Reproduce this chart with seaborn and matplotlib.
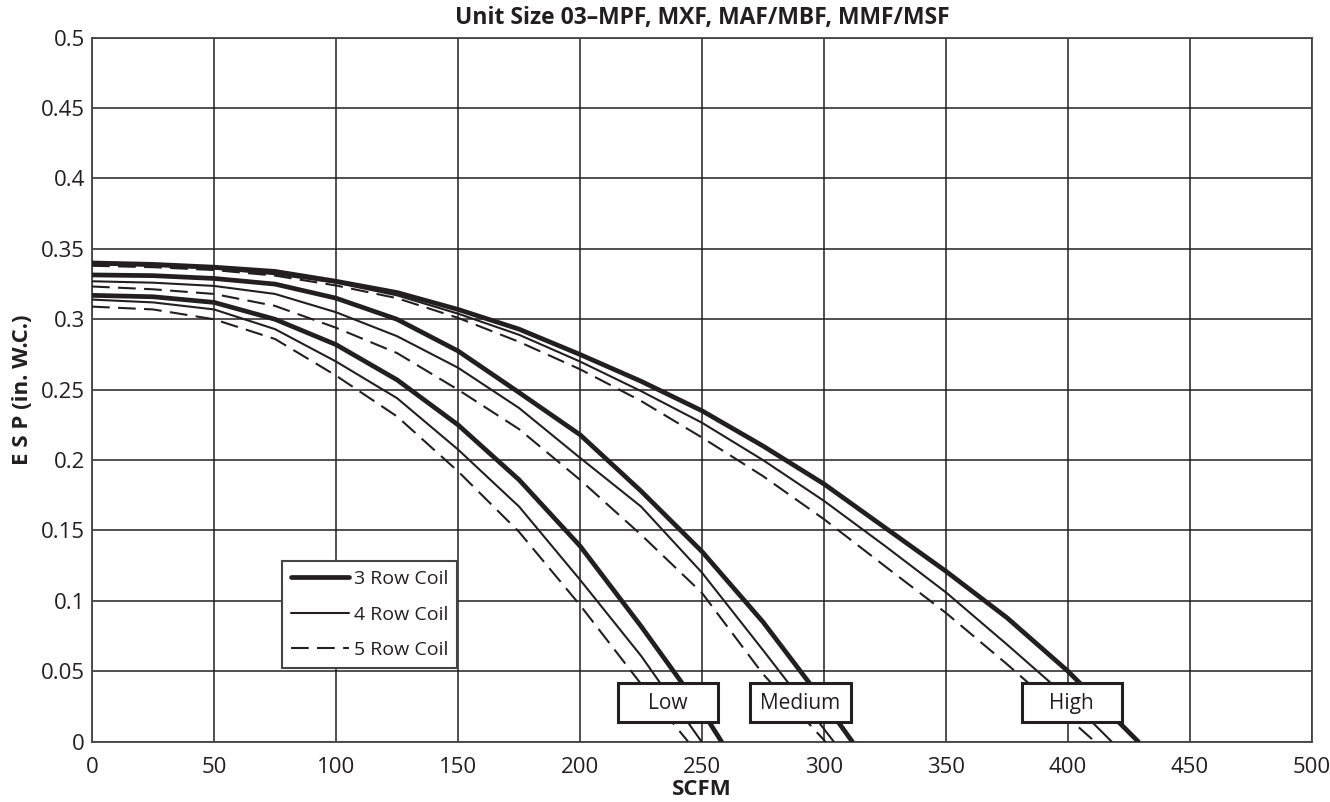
import numpy as np
import pandas as pd
import matplotlib
matplotlib.use("Agg")
import matplotlib.pyplot as plt
from matplotlib.patches import Rectangle
import seaborn as sns

# fan curves (SCFM vs ESP in. W.C.)
low3_x = [0, 25, 50, 75, 100, 125, 150, 175, 200, 225, 250, 258]
low3_y = [0.317, 0.316, 0.312, 0.300, 0.282, 0.257, 0.225, 0.186, 0.139, 0.082, 0.022, 0.0]
low4_x = [0, 25, 50, 75, 100, 125, 150, 175, 200, 225, 249.8]
low4_y = [0.314, 0.312, 0.307, 0.293, 0.270, 0.244, 0.2075, 0.167, 0.115, 0.061, 0.0]
low5_x = [0, 25, 50, 75, 100, 125, 150, 175, 200, 225, 244.3]
low5_y = [0.309, 0.307, 0.300, 0.286, 0.260, 0.231, 0.192, 0.149, 0.097, 0.041, 0.0]

med3_x = [0, 25, 50, 75, 100, 125, 150, 175, 200, 225, 250, 275, 300, 311.6]
med3_y = [0.3315, 0.331, 0.329, 0.325, 0.315, 0.300, 0.2775, 0.248, 0.218, 0.178, 0.135, 0.085, 0.028, 0.0]
med4_x = [0, 25, 50, 75, 100, 125, 150, 175, 200, 225, 250, 275, 304]
med4_y = [0.327, 0.326, 0.3237, 0.318, 0.305, 0.288, 0.2656, 0.237, 0.2016, 0.167, 0.120, 0.065, 0.0]
med5_x = [0, 25, 50, 75, 100, 125, 150, 175, 200, 225, 250, 275, 300.6]
med5_y = [0.3233, 0.3213, 0.318, 0.3095, 0.294, 0.276, 0.250, 0.222, 0.186, 0.147, 0.1056, 0.048, 0.0]

high3_x = [0, 25, 50, 75, 100, 125, 150, 175, 200, 225, 250, 275, 300, 325, 350, 375, 400, 428.8]
high3_y = [0.340, 0.339, 0.337, 0.334, 0.327, 0.319, 0.307, 0.293, 0.275, 0.256, 0.235, 0.210, 0.183, 0.152, 0.121, 0.088, 0.050, 0.0]
high4_x = [0, 25, 50, 75, 100, 125, 150, 175, 200, 225, 250, 275, 300, 325, 350, 375, 400, 417.9]
high4_y = [0.339, 0.338, 0.336, 0.332, 0.326, 0.317, 0.304, 0.289, 0.270, 0.249, 0.2265, 0.200, 0.171, 0.139, 0.106, 0.069, 0.031, 0.0]
high5_x = [0, 25, 50, 75, 100, 125, 150, 175, 200, 225, 250, 275, 300, 325, 350, 375, 400, 411]
high5_y = [0.338, 0.337, 0.335, 0.331, 0.324, 0.315, 0.301, 0.284, 0.2645, 0.242, 0.216, 0.1886, 0.158, 0.1246, 0.0914, 0.055, 0.017, 0.0]

coils = ["3 Row Coil", "4 Row Coil", "5 Row Coil"]
speeds = ["Low", "Medium", "High"]

curves = {
    ("Low", "3 Row Coil"): (low3_x, low3_y),
    ("Low", "4 Row Coil"): (low4_x, low4_y),
    ("Low", "5 Row Coil"): (low5_x, low5_y),
    ("Medium", "3 Row Coil"): (med3_x, med3_y),
    ("Medium", "4 Row Coil"): (med4_x, med4_y),
    ("Medium", "5 Row Coil"): (med5_x, med5_y),
    ("High", "3 Row Coil"): (high3_x, high3_y),
    ("High", "4 Row Coil"): (high4_x, high4_y),
    ("High", "5 Row Coil"): (high5_x, high5_y),
}

# speed label boxes (x0, x1 in SCFM)
box_x = {"Low": (215.5, 256.5), "Medium": (269.5, 311), "High": (381, 422)}
box_y = (0.0143, 0.0416)

sns.set_theme(style="white")
plt.rcParams['font.family'] = ['Open Sans', 'DejaVu Sans']

ink = "#231f20"
line_style = {
    "3 Row Coil": dict(lw=3.4, ls="-"),
    "4 Row Coil": dict(lw=1.5, ls="-"),
    "5 Row Coil": dict(lw=1.5, ls=(0, (8.5, 4))),
}

fig = plt.figure(figsize=(13.3, 8.02), dpi=100)
ax = fig.add_axes([0.0692, 0.0752, 0.9173, 0.8778])

for (spd, coil), (xs, ys) in curves.items():
    df = pd.DataFrame({"SCFM": xs, "ESP": ys})
    st = line_style[coil]
    sns.lineplot(data=df, x="SCFM", y="ESP", ax=ax, color=ink, lw=st["lw"],
                 linestyle=st["ls"], label=coil if spd == "Low" else None,
                 zorder=3)

for spd in speeds:
    x0, x1 = box_x[spd]
    ax.add_patch(Rectangle((x0, box_y[0]), x1 - x0, box_y[1] - box_y[0],
                           facecolor="white", edgecolor=ink, lw=2.2, zorder=5))
    ax.text((x0 + x1) / 2, (box_y[0] + box_y[1]) / 2 - 0.001, spd, ha="center",
            va="center", fontsize=15, color=ink, zorder=6)

ax.set_xlim(0, 500)
ax.set_ylim(0, 0.5)
ax.set_xticks(np.arange(0, 501, 50))
ax.set_yticks(np.arange(0, 0.501, 0.05))
ax.set_xticklabels([str(v) for v in range(0, 501, 50)])
ax.set_yticklabels(["0"] + [("%.2f" % v).rstrip("0") for v in np.arange(0.05, 0.501, 0.05)])
ax.grid(True, color=ink, lw=1.1)
ax.tick_params(axis="both", length=0, labelsize=16, colors=ink)
ax.tick_params(axis="y", pad=5)
ax.tick_params(axis="x", pad=11)
for s in ax.spines.values():
    s.set_color("#444444")
    s.set_linewidth(1.3)

ax.set_xlabel("SCFM", fontsize=16, fontweight="bold", color=ink, labelpad=1)
ax.set_ylabel("E S P (in. W.C.)", fontsize=16, fontweight="bold", color=ink, labelpad=6)
ax.set_title("Unit Size 03\u2013MPF, MXF, MAF/MBF, MMF/MSF", fontsize=16.5,
             fontweight="bold", color=ink, pad=10)

leg = ax.legend(loc="upper left", bbox_to_anchor=(0.156, 0.256), borderaxespad=0,
                fontsize=14, frameon=True, fancybox=False, handlelength=3.0,
                handletextpad=0.25, labelspacing=0.9, borderpad=0.45)
leg.get_frame().set_edgecolor("#444444")
leg.get_frame().set_linewidth(1.5)
leg.get_frame().set_alpha(1)
leg.set_zorder(7)
for t in leg.get_texts():
    t.set_color(ink)

fig.savefig("out.png", dpi=100)
